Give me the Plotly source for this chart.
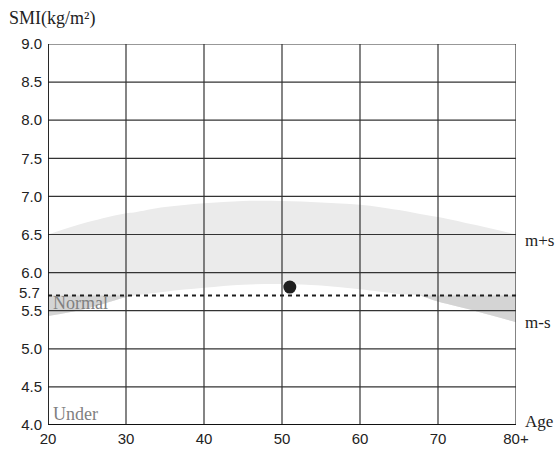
import plotly.graph_objects as go
import numpy as np

# Data
ages = [20, 25, 30, 31, 35, 40, 45, 50, 55, 60, 65, 67.7, 70, 75, 80]
upper = [6.50, 6.66, 6.78, 6.79, 6.86, 6.91, 6.94, 6.94, 6.92, 6.89, 6.82, 6.77, 6.73, 6.62, 6.50]
lower = [5.43, 5.53, 5.68, 5.70, 5.75, 5.80, 5.84, 5.85, 5.83, 5.78, 5.72, 5.70, 5.62, 5.49, 5.35]
ref_level = 5.7
point_age = [51]
point_smi = [5.81]

x_ticks = [20, 30, 40, 50, 60, 70, 80]
x_ticktext = ["20", "30", "40", "50", "60", "70", "80+"]
y_grid = [4.0, 4.5, 5.0, 5.5, 6.0, 6.5, 7.0, 7.5, 8.0, 8.5, 9.0]
y_ticktext = [f"{v:.1f}" for v in y_grid]

LIGHT = "#ebebeb"
DARK = "#d4d4d4"
GRID = "#333333"

fig = go.Figure()

# light band between lower and upper curves
fig.add_trace(go.Scatter(x=ages, y=lower, mode="lines", line=dict(width=0, shape="spline"),
                         hoverinfo="skip", showlegend=False))
fig.add_trace(go.Scatter(x=ages, y=upper, mode="lines", line=dict(width=0, shape="spline"),
                         fill="tonexty", fillcolor=LIGHT, hoverinfo="skip", showlegend=False))

# darker parts where lower curve is below the reference level
a = np.array(ages, dtype=float)
lo = np.array(lower)
mask = lo <= ref_level + 1e-9
runs = []
cur = []
for i, m in enumerate(mask):
    if m:
        cur.append(i)
    elif cur:
        runs.append(cur)
        cur = []
if cur:
    runs.append(cur)
for run in runs:
    if len(run) < 2:
        continue
    xs = a[run]
    fig.add_trace(go.Scatter(x=xs, y=[ref_level] * len(xs), mode="lines", line=dict(width=0),
                             hoverinfo="skip", showlegend=False))
    fig.add_trace(go.Scatter(x=xs, y=lo[run], mode="lines", line=dict(width=0, shape="spline"),
                             fill="tonexty", fillcolor=DARK, hoverinfo="skip", showlegend=False))

# measured point
fig.add_trace(go.Scatter(x=point_age, y=point_smi, mode="markers",
                         marker=dict(size=13, color="#1e1e1e"), showlegend=False))

shapes = []
for yv in y_grid:
    shapes.append(dict(type="line", xref="x", yref="y", x0=x_ticks[0], x1=x_ticks[-1], y0=yv, y1=yv,
                       line=dict(color=GRID, width=1.2), layer="above"))
for xv in x_ticks:
    shapes.append(dict(type="line", xref="x", yref="y", x0=xv, x1=xv, y0=y_grid[0], y1=y_grid[-1],
                       line=dict(color=GRID, width=1.2), layer="above"))
shapes.append(dict(type="line", xref="x", yref="y", x0=x_ticks[0], x1=x_ticks[-1], y0=ref_level, y1=ref_level,
                   line=dict(color="#1e1e1e", width=2, dash="4px,4px"), layer="above"))
# axis lines (bottom, left)
shapes.append(dict(type="line", xref="x", yref="y", x0=x_ticks[0], x1=x_ticks[-1], y0=y_grid[0], y1=y_grid[0],
                   line=dict(color="#111111", width=2), layer="above"))
shapes.append(dict(type="line", xref="x", yref="y", x0=x_ticks[0], x1=x_ticks[0], y0=y_grid[0], y1=y_grid[-1],
                   line=dict(color="#111111", width=1.6), layer="above"))

serif = "Liberation Serif, Times New Roman, serif"
sans = "Liberation Sans, Arial, sans-serif"
annotations = [
    dict(text="SMI(kg/m²)", xref="paper", yref="paper", x=-0.088, y=1.066, xanchor="left", yanchor="middle",
         showarrow=False, font=dict(family=serif, size=18, color="#222")),
    dict(text="m+s", xref="paper", yref="y", x=1.016, y=6.42, xanchor="left", yanchor="middle",
         showarrow=False, font=dict(family=serif, size=17, color="#222")),
    dict(text="m-s", xref="paper", yref="y", x=1.016, y=5.34, xanchor="left", yanchor="middle",
         showarrow=False, font=dict(family=serif, size=17, color="#222")),
    dict(text="Age", xref="paper", yref="y", x=1.016, y=4.04, xanchor="left", yanchor="middle",
         showarrow=False, font=dict(family=serif, size=17, color="#222")),
    dict(text="Normal", xref="x", yref="y", x=20.4, y=5.6, xanchor="left", yanchor="middle",
         showarrow=False, font=dict(family=serif, size=18, color="#808080")),
    dict(text="Under", xref="x", yref="y", x=20.4, y=4.14, xanchor="left", yanchor="middle",
         showarrow=False, font=dict(family=serif, size=18, color="#808080")),
    # reference-level tick label, nudged up slightly as in the original
    dict(text=f"{ref_level:.1f}", xref="paper", yref="y", x=-0.013, y=ref_level, xanchor="right",
         yanchor="middle", yshift=3, showarrow=False, font=dict(family=sans, size=15, color="#222")),
]

fig.update_layout(
    width=558, height=450,
    margin=dict(l=48, r=42, t=44, b=25, autoexpand=False),
    paper_bgcolor="white", plot_bgcolor="white",
    shapes=shapes, annotations=annotations,
    showlegend=False,
    xaxis=dict(range=[20, 80], tickmode="array", tickvals=x_ticks, ticktext=x_ticktext,
               showgrid=False, zeroline=False, showline=False, ticks="", ticklabelstandoff=3,
               automargin=False,
               tickfont=dict(family=sans, size=15, color="#222")),
    yaxis=dict(range=[4.0, 9.0], tickmode="array", tickvals=y_grid, ticktext=y_ticktext,
               showgrid=False, zeroline=False, showline=False, ticks="", ticklabelstandoff=5,
               automargin=False,
               tickfont=dict(family=sans, size=15, color="#222")),
)

fig.write_html("out.html")
